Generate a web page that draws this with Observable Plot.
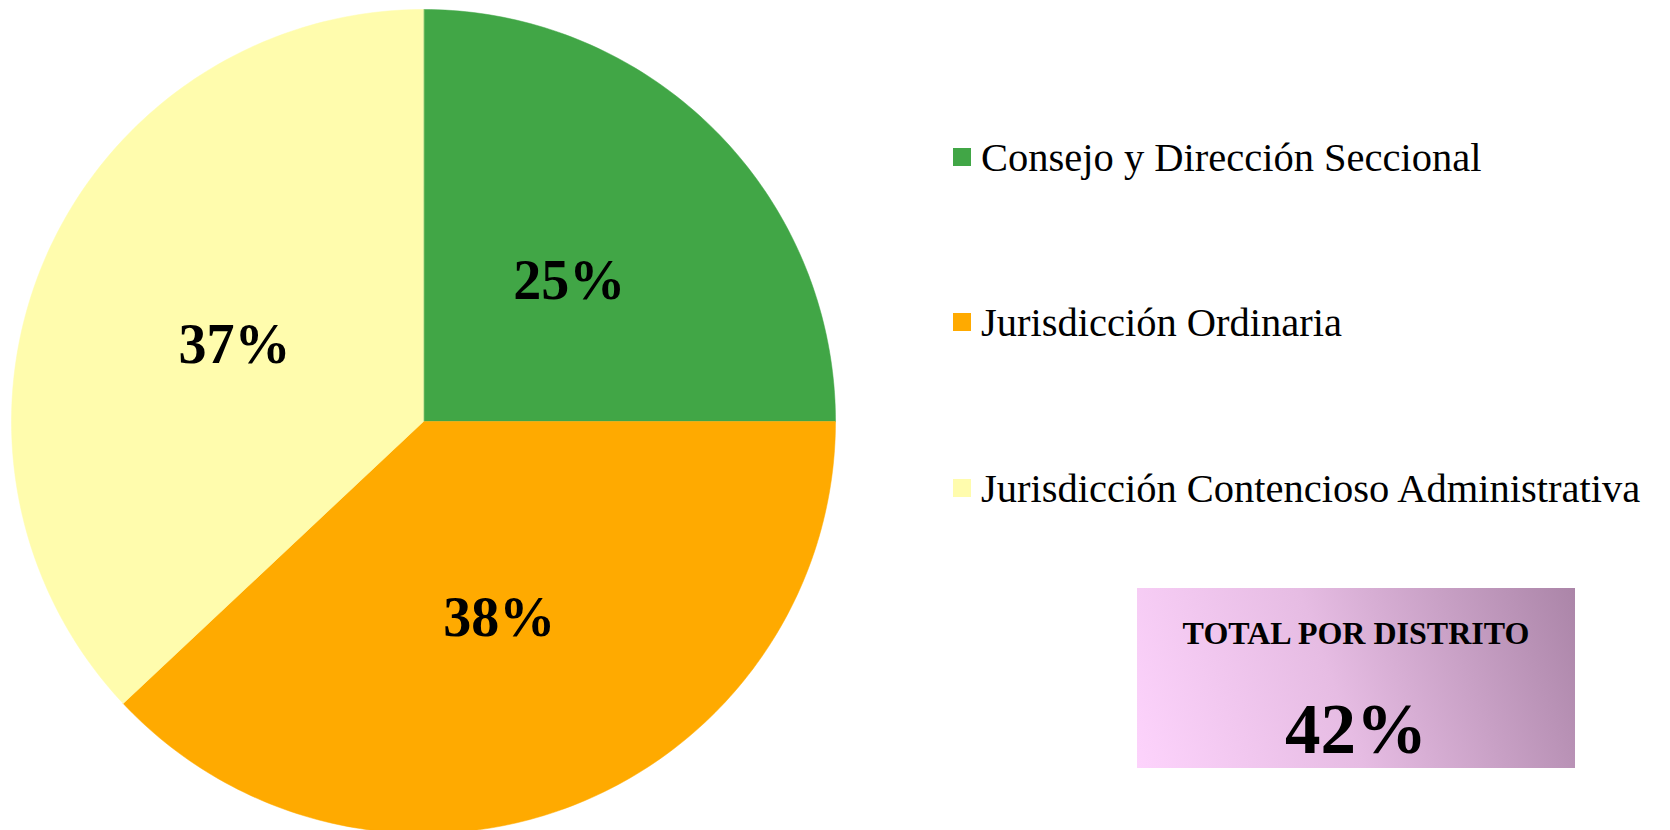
<!DOCTYPE html>
<html>
<head>
<meta charset="utf-8">
<script src="https://cdn.jsdelivr.net/npm/d3@7"></script>
<script src="https://cdn.jsdelivr.net/npm/@observablehq/plot@0.6"></script>
<style>
  html, body { margin: 0; padding: 0; background: #fff; }
  #wrap { position: relative; width: 1670px; height: 830px; overflow: hidden; font-family: "Liberation Serif", "Times New Roman", serif; }
  #chart { position: absolute; left: 0; top: 0; }
  .leg { position: absolute; left: 953px; display: flex; align-items: center; font-size: 40.5px; color: #000; white-space: nowrap; }
  .sw { width: 18px; height: 18px; margin-right: 10px; }
  #box { position: absolute; left: 1137px; top: 588px; width: 438px; height: 180px;
         background: linear-gradient(70deg, #fdd3fc 0%, #e6bce3 45%, #ab85a8 100%); }
  #box .t1 { position: absolute; left: 0; width: 100%; top: 29px; line-height: 1; text-align: center; font-weight: bold; font-size: 32px; }
  #box .t2 { position: absolute; left: 0; width: 100%; top: 106px; line-height: 1; text-align: center; font-weight: bold; font-size: 71px; }
</style>
</head>
<body>
<div id="wrap">
  <div id="chart"></div>
  <div id="legend"></div>
  <div id="box"><div class="t1"></div><div class="t2"></div></div>
</div>
<script>
const categories = ["Consejo y Dirección Seccional", "Jurisdicción Ordinaria", "Jurisdicción Contencioso Administrativa"];
const values = [25, 38, 37];
const colors = ["#41a646", "#ffaa00", "#fffcad"];
const labels = ["25%", "38%", "37%"];
const totalTitle = "TOTAL POR DISTRITO";
const totalValue = "42%";

// Build slice polygons in unit-circle data space, clockwise from 12 o'clock
const total = d3.sum(values);
const polys = [];
const labelPts = [];
let acc = 0;
values.forEach((v, i) => {
  const a0 = acc / total * 2 * Math.PI;
  acc += v;
  const a1 = acc / total * 2 * Math.PI;
  const n = Math.max(2, Math.ceil((a1 - a0) / (Math.PI / 180)));
  polys.push({k: i, x: 0, y: 0});
  for (let j = 0; j <= n; j++) {
    const a = a0 + (a1 - a0) * j / n;
    polys.push({k: i, x: Math.sin(a), y: Math.cos(a)});
  }
  const am = (a0 + a1) / 2;
  labelPts.push({k: i, x: 0.5 * Math.sin(am), y: 0.5 * Math.cos(am), label: labels[i]});
});

const cx = 423, cy = 421, r = 412;
const plot = Plot.plot({
  width: 1670,
  height: 830,
  margin: 0,
  x: {domain: [-1, 1], range: [cx - r, cx + r], axis: null},
  y: {domain: [-1, 1], range: [cy + r, cy - r], axis: null},
  color: {domain: [0, 1, 2], range: colors},
  marks: [
    Plot.line(polys, {x: "x", y: "y", z: "k", fill: "k", stroke: "k", strokeWidth: 0.5, curve: "linear-closed"}),
    Plot.text(labelPts, {x: "x", y: "y", text: "label", dy: 5, fontSize: 56, fontWeight: "bold", fontFamily: "Liberation Serif, serif", fill: "#000"})
  ]
});
document.getElementById("chart").appendChild(plot);

const legendTops = [157, 322, 488];
const leg = document.getElementById("legend");
categories.forEach((c, i) => {
  const d = document.createElement("div");
  d.className = "leg";
  d.style.top = (legendTops[i] - 25) + "px";
  d.style.height = "50px";
  const s = document.createElement("div");
  s.className = "sw";
  s.style.background = colors[i];
  const t = document.createElement("span");
  t.textContent = c;
  d.appendChild(s); d.appendChild(t);
  leg.appendChild(d);
});
document.querySelector("#box .t1").textContent = totalTitle;
document.querySelector("#box .t2").textContent = totalValue;
</script>
</body>
</html>
